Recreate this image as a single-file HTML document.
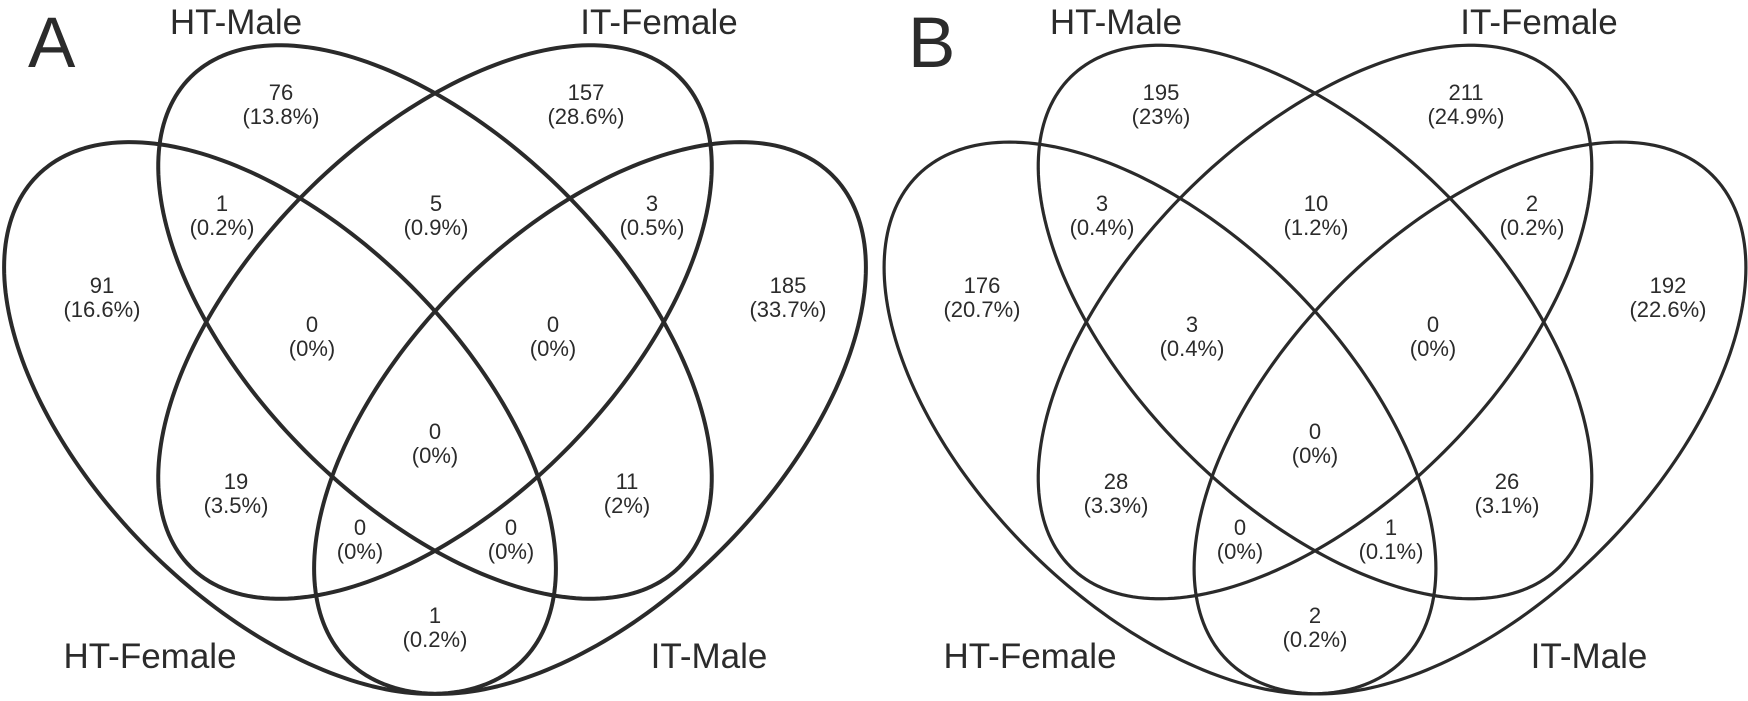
<!DOCTYPE html>
<html><head><meta charset="utf-8"><style>
html,body{margin:0;padding:0;background:#fff;width:1748px;height:701px;overflow:hidden;}
svg{display:block;}
text{font-family:"Liberation Sans",Arial,sans-serif;fill:#2b2b2b;}
</style></head>
<body>
<svg id="chart" width="1748" height="701" viewBox="0 0 1748 701" xmlns="http://www.w3.org/2000/svg" overflow="hidden"></svg>
<script>
const setNames = ["HT-Male","IT-Female","HT-Female","IT-Male"];
const regionKeys = ["hm","itf","hf_hm","hm_itf","itf_im","hf","im","hf_hm_itf","hm_itf_im","all","hf_itf","hm_im","hf_itf_im","hf_hm_im","hf_im"];
const countsA = [76,157,1,5,3,91,185,0,0,0,19,11,0,0,1];
const pctA = ["13.8%","28.6%","0.2%","0.9%","0.5%","16.6%","33.7%","0%","0%","0%","3.5%","2%","0%","0%","0.2%"];
const countsB = [195,211,3,10,2,176,192,3,0,0,28,26,0,1,2];
const pctB = ["23%","24.9%","0.4%","1.2%","0.2%","20.7%","22.6%","0.4%","0%","0%","3.3%","3.1%","0%","0.1%","0.2%"];

// layout (pixel positions of region labels within a panel)
const layout = {
  hm:[281,92], itf:[586,92], hf_hm:[222,203], hm_itf:[436,203], itf_im:[652,203],
  hf:[102,285], im:[788,285], hf_hm_itf:[312,324], hm_itf_im:[553,324], all:[435,431],
  hf_itf:[236,481], hm_im:[627,481], hf_itf_im:[360,527], hf_hm_im:[511,527], hf_im:[435,615]
};
const svg = document.getElementById('chart');
const NS = "http://www.w3.org/2000/svg";
function mk(tag, attrs){const e=document.createElementNS(NS,tag);for(const k in attrs)e.setAttribute(k,attrs[k]);return e;}

function ellipsePath(cx, cy, a, b, deg, ox){
  const r = deg*Math.PI/180, c = Math.cos(r), s = Math.sin(r);
  let d = '';
  const N = 240;
  for(let i=0;i<N;i++){
    const t = i/N*2*Math.PI;
    const x = a*Math.cos(t), y = b*Math.sin(t);
    const px = cx + x*c - y*s + ox, py = cy + x*s + y*c;
    d += (i===0?'M':'L') + px.toFixed(2) + ' ' + py.toFixed(2);
  }
  return d + 'Z';
}

function panel(offset, letter, counts, pcts, sw){
  const g = mk('g',{});
  
  
  svg.appendChild(g);
  const ells = [
    {n:'ht-male', cx:435, cy:322, a:346, b:183, r:45},
    {n:'it-female', cx:435, cy:322, a:346, b:183, r:-45},
    {n:'ht-female', cx:280, cy:418, a:343, b:186, r:45},
    {n:'it-male', cx:590, cy:418, a:343, b:186, r:-45}
  ];
  ells.forEach(E=>{
    const e = mk('path',{d:ellipsePath(E.cx,E.cy,E.a,E.b,E.r,offset), fill:'none', stroke:'#2a2a2a','stroke-width':sw,'stroke-linejoin':'round'});
    
    
    g.appendChild(e);
  });
  const L = mk('text',{x:28+offset, y:67, 'font-size':71});
  L.textContent = letter;
  
  
  g.appendChild(L);
  const labPos = [[236,34],[659,34],[150,668],[709,668]];
  setNames.forEach((s,i)=>{
    const t = mk('text',{x:labPos[i][0]+offset, y:labPos[i][1], 'font-size':35, 'text-anchor':'middle'});
    t.textContent = s;
    
    
    g.appendChild(t);
  });
  regionKeys.forEach((k,i)=>{
    const p = layout[k];
    const t = mk('text',{x:p[0]+offset, y:p[1]+8, 'font-size':22, 'text-anchor':'middle'});
    t.textContent = String(counts[i]);
    
    
    g.appendChild(t);
    const t2 = mk('text',{x:p[0]+offset, y:p[1]+32, 'font-size':22, 'text-anchor':'middle'});
    t2.textContent = '('+pcts[i]+')';
    
    
    g.appendChild(t2);
  });
}
panel(0,'A',countsA,pctA,4);
panel(880,'B',countsB,pctB,3.2);
</script>
</body></html>
